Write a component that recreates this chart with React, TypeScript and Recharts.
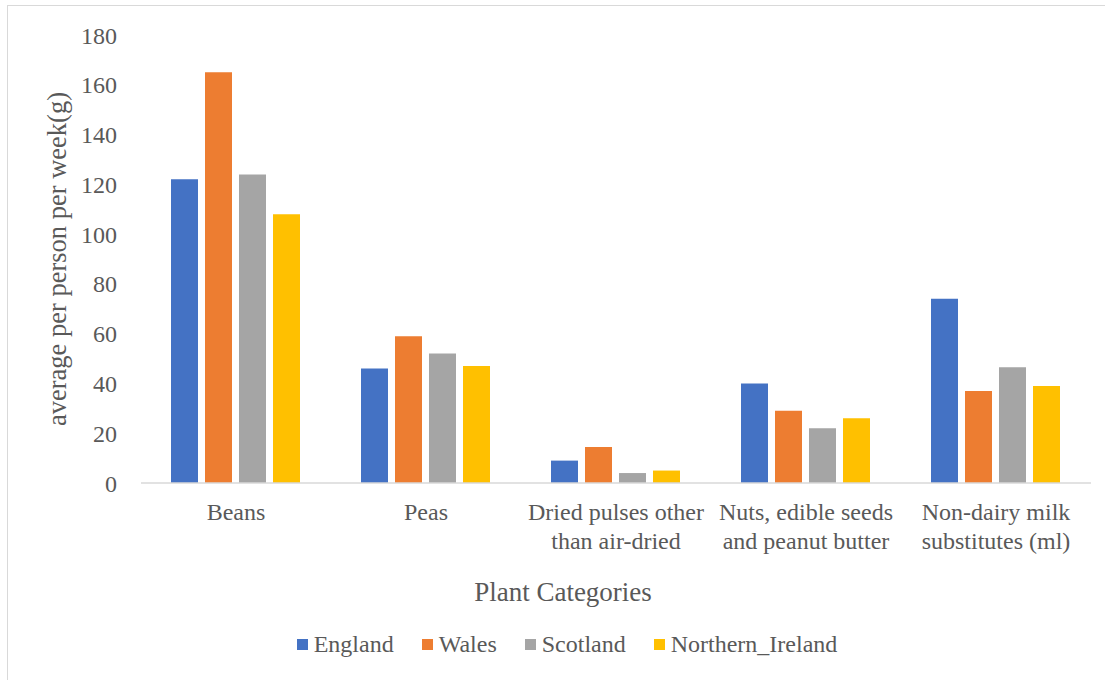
import { Bar, BarChart, Legend, XAxis, YAxis } from 'recharts'

const categories = [
  'Beans',
  'Peas',
  'Dried pulses other than air-dried',
  'Nuts, edible seeds and peanut butter',
  'Non-dairy milk substitutes (ml)'
]
const tickLines = [
  ['Beans'],
  ['Peas'],
  ['Dried pulses other', 'than air-dried'],
  ['Nuts, edible seeds', 'and peanut butter'],
  ['Non-dairy milk', 'substitutes (ml)']
]
const england = [122, 46, 9, 40, 74]
const wales = [165, 59, 14.5, 29, 37]
const scotland = [124, 52, 4, 22, 46.5]
const northernIreland = [108, 47, 5, 26, 39]
const yTicks = [0, 20, 40, 60, 80, 100, 120, 140, 160, 180]

const series = [
  { key: 'England', color: '#4472C4' },
  { key: 'Wales', color: '#ED7D31' },
  { key: 'Scotland', color: '#A5A5A5' },
  { key: 'Northern_Ireland', color: '#FFC000' }
]

const data = categories.map((name, i) => ({
  name,
  England: england[i],
  Wales: wales[i],
  Scotland: scotland[i],
  Northern_Ireland: northernIreland[i]
}))

const FONT = '"Liberation Serif", "Times New Roman", serif'
const TEXT = '#595959'

function CategoryTick({ x, y, payload }: any) {
  const lines = tickLines[payload.index] ?? [payload.value]
  return (
    <text x={x} y={y} textAnchor="middle" fill={TEXT} fontSize={24} fontFamily={FONT}>
      {lines.map((line, i) => (
        <tspan key={i} x={x} dy={i === 0 ? 23 : 29}>
          {line}
        </tspan>
      ))}
    </text>
  )
}

function LegendContent() {
  return (
    <div
      style={{
        display: 'flex',
        justifyContent: 'center',
        paddingLeft: 43,
        fontFamily: FONT,
        fontSize: 24,
        color: TEXT
      }}
    >
      {series.map((s) => (
        <div key={s.key} style={{ display: 'flex', alignItems: 'center', margin: '0 14px' }}>
          <span style={{ width: 11, height: 11, background: s.color, marginRight: 6 }} />
          <span>{s.key}</span>
        </div>
      ))}
    </div>
  )
}

export default function App() {
  return (
    <div style={{ position: 'absolute', left: 0, top: 0, width: 1105, height: 680, background: '#fff' }}>
      <div
        style={{
          position: 'absolute',
          left: 7,
          top: 5,
          right: 0,
          bottom: 0,
          borderTop: '1.5px solid #d9d9d9',
          borderLeft: '1.5px solid #d9d9d9'
        }}
      />
      <div style={{ position: 'absolute', left: 0, top: 0 }}>
        <BarChart
          width={1105}
          height={680}
          data={data}
          margin={{ top: 35, right: 14, left: 0, bottom: 19 }}
          barCategoryGap={30}
          barGap={7}
        >
          <XAxis
            dataKey="name"
            height={148}
            interval={0}
            tickLine={false}
            tickSize={0}
            tickMargin={14}
            axisLine={{ stroke: '#d9d9d9', strokeWidth: 1.5 }}
            tick={<CategoryTick />}
            label={{
              content: ({ viewBox }: any) => (
                <text
                  x={563}
                  y={viewBox.y + 118}
                  textAnchor="middle"
                  fill={TEXT}
                  fontSize={27}
                  fontFamily={FONT}
                >
                  Plant Categories
                </text>
              )
            }}
          />
          <YAxis
            width={141}
            domain={[0, 180]}
            ticks={yTicks}
            interval={0}
            axisLine={false}
            tickLine={false}
            tickSize={0}
            tickMargin={24}
            tick={{ fill: TEXT, fontSize: 24, fontFamily: FONT }}
            label={{
              content: ({ viewBox }: any) => {
                const cy = viewBox.y + viewBox.height / 2
                return (
                  <text
                    x={66}
                    y={cy}
                    transform={`rotate(-90 66 ${cy})`}
                    textAnchor="middle"
                    fill={TEXT}
                    fontSize={26.5}
                    fontFamily={FONT}
                  >
                    average per person per week(g)
                  </text>
                )
              }
            }}
          />
          <Legend verticalAlign="bottom" height={30} content={<LegendContent />} />
          {series.map((s) => (
            <Bar key={s.key} dataKey={s.key} fill={s.color} isAnimationActive={false} />
          ))}
        </BarChart>
      </div>
    </div>
  )
}
